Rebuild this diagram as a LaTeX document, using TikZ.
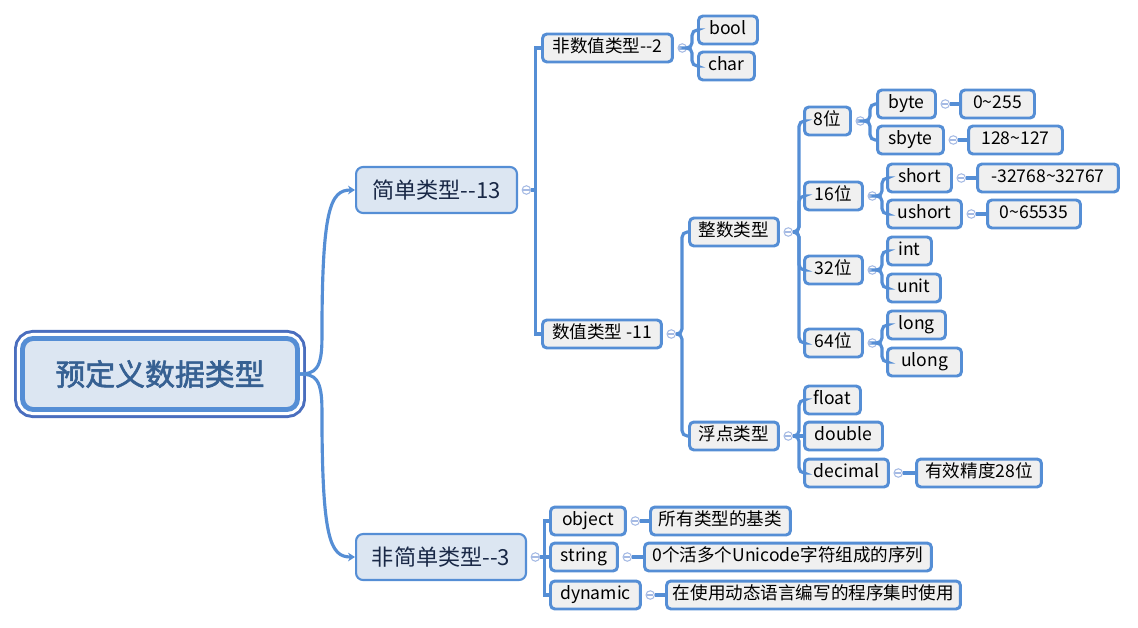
\documentclass[tikz,border=0pt]{standalone}
\usepackage{fontspec}
\newfontfamily\cjk[AutoFakeBold=2]{Noto Sans CJK SC}
\usetikzlibrary{arrows.meta,positioning}
\definecolor{lineblue}{RGB}{85,142,213}
\definecolor{leafgray}{RGB}{240,240,240}
\definecolor{midfill}{RGB}{220,230,242}
\definecolor{midtext}{RGB}{25,40,70}
\definecolor{roottext}{RGB}{54,96,146}
\definecolor{rootframe}{RGB}{74,110,190}
\definecolor{foldblue}{RGB}{165,186,228}

\begin{document}
\begin{tikzpicture}[
        x=0.02cm, y=-0.02cm,
        leaf/.style={draw=lineblue, fill=leafgray, line width=1.7pt, rounded corners=2.5pt,
                     minimum height=0.56cm, inner sep=0pt, anchor=west,
                     text height=1.6ex, text depth=0.35ex,
                     font=\cjk\fontsize{10}{12}\selectfont},
        mid/.style={draw=lineblue, fill=midfill, line width=1.2pt, rounded corners=4pt,
                    minimum height=0.92cm, inner sep=0pt, anchor=west, text=midtext,
                    font=\cjk\fontsize{12.6}{15}\selectfont},
        rootbox/.style={draw=lineblue, fill=midfill, line width=2.8pt, rounded corners=6pt,
                        minimum width=5.5cm, minimum height=1.42cm, inner sep=0pt, text=roottext,
                        font=\cjk\bfseries\fontsize{17}{20}\selectfont,
                        preaction={draw=rootframe, line width=9.7pt},
                        preaction={draw=white, line width=6.3pt}},
        fold/.style={circle, draw=foldblue, fill=white, line width=0.6pt, minimum size=0.17cm,
                     inner sep=0pt,
                     path picture={\draw[foldblue, line width=0.7pt]
                        ([xshift=-1.8pt]path picture bounding box.center) --
                        ([xshift=1.8pt]path picture bounding box.center);}},
        link/.style={draw=lineblue, line width=1.8pt},
        curly/.style={link, rounded corners=3pt},
        arr/.style={link, -{Stealth[length=4pt, width=5pt]}}
    ]
    \useasboundingbox (0,0) rectangle (1138,628);
    % root and first level
    \node[rootbox] (root) at (160,374) {预定义数据类型};
    \node[mid, minimum width=3.22cm] (simple) at (355,190) {简单类型-{}-13};
    \node[mid, minimum width=3.40cm] (nonsimple) at (355,557) {非简单类型-{}-3};
    \node[fold, right=2pt of simple] (fsimple) {};
    \node[fold, right=2pt of nonsimple] (fnonsimple) {};
    % simple types
    \node[leaf, minimum width=2.60cm] (nonnum) at (541,48) {非数值类型-{}-2};
    \node[leaf, minimum width=2.38cm] (num) at (541,334) {数值类型 -11};
    \node[fold, right=2pt of nonnum] (fnonnum) {};
    \node[fold, right=2pt of num] (fnum) {};
    \node[leaf, minimum width=1.18cm] (bool) at (697,30) {bool};
    \node[leaf, minimum width=1.12cm] (char) at (697,66) {char};
    \node[leaf, minimum width=1.78cm] (intg) at (688,232) {整数类型};
    \node[leaf, minimum width=1.78cm] (fltg) at (688,436) {浮点类型};
    \node[fold, right=2pt of intg] (fintg) {};
    \node[fold, right=2pt of fltg] (ffltg) {};
    % integer types
    \node[leaf, minimum width=0.92cm] (b8) at (803,121) {8位};
    \node[leaf, minimum width=1.16cm] (b16) at (803,196) {16位};
    \node[leaf, minimum width=1.16cm] (b32) at (803,270) {32位};
    \node[leaf, minimum width=1.16cm] (b64) at (803,343) {64位};
    \node[fold, right=2pt of b8] (fb8) {};
    \node[fold, right=2pt of b16] (fb16) {};
    \node[fold, right=2pt of b32] (fb32) {};
    \node[fold, right=2pt of b64] (fb64) {};
    \node[leaf, minimum width=1.16cm] (byte) at (876,104) {byte};
    \node[leaf, minimum width=1.32cm] (sbyte) at (876,140) {sbyte};
    \node[fold, right=2pt of byte] (fbyte) {};
    \node[fold, right=2pt of sbyte] (fsbyte) {};
    \node[leaf, minimum width=1.48cm] (rbyte) at (959,104) {0\textasciitilde 255};
    \node[leaf, minimum width=1.88cm] (rsbyte) at (967,140) {128\textasciitilde 127};
    \node[leaf, minimum width=1.28cm] (short) at (886,178) {short};
    \node[leaf, minimum width=1.48cm] (ushort) at (886,214) {ushort};
    \node[fold, right=2pt of short] (fshort) {};
    \node[fold, right=2pt of ushort] (fushort) {};
    \node[leaf, minimum width=2.82cm] (rshort) at (976,178) {-32768\textasciitilde 32767};
    \node[leaf, minimum width=1.86cm] (rushort) at (986,214) {0\textasciitilde 65535};
    \node[leaf, minimum width=0.88cm] (int) at (886,251) {int};
    \node[leaf, minimum width=1.06cm] (unit) at (886,288) {unit};
    \node[leaf, minimum width=1.16cm] (long) at (886,325) {long};
    \node[leaf, minimum width=1.48cm] (ulong) at (886,362) {ulong};
    % floating types
    \node[leaf, minimum width=1.12cm] (float) at (803,400) {float};
    \node[leaf, minimum width=1.56cm] (double) at (803,436) {double};
    \node[leaf, minimum width=1.68cm] (decimal) at (803,473) {decimal};
    \node[fold, right=2pt of decimal] (fdecimal) {};
    \node[leaf, minimum width=2.50cm] (ddecimal) at (915,473) {有效精度28位};
    % non-simple types
    \node[leaf, minimum width=1.50cm] (object) at (549,521) {object};
    \node[leaf, minimum width=1.34cm] (string) at (549,557) {string};
    \node[leaf, minimum width=1.80cm] (dynamic) at (549,595) {dynamic};
    \node[fold, right=2pt of object] (fobject) {};
    \node[fold, right=2pt of string] (fstring) {};
    \node[fold, right=2pt of dynamic] (fdynamic) {};
    \node[leaf, minimum width=2.80cm] (dobject) at (649,521) {所有类型的基类};
    \node[leaf, minimum width=5.74cm] (dstring) at (643,557) {0个活多个Unicode字符组成的序列};
    \node[leaf, minimum width=5.88cm] (ddynamic) at (665,595) {在使用动态语言编写的程序集时使用};
    % connectors
    \draw[arr] (root.east) .. controls +(15,0) and +(0,30) .. ++(22,-35)
        .. controls +(0,-130) and +(-25,0) .. (simple.west);
    \draw[arr] (root.east) .. controls +(15,0) and +(0,-30) .. ++(22,35)
        .. controls +(0,130) and +(-25,0) .. (nonsimple.west);
    \draw[link] (fsimple.east) -- ++(4,0) |- (nonnum.west);
    \draw[link] (fsimple.east) -- ++(4,0) |- (num.west);
    \draw[curly] (fnonnum.east) -- ++(5,0) |- (bool.west);
    \draw[curly] (fnonnum.east) -- ++(5,0) |- (char.west);
    \draw[curly] (fnum.east) -- ++(6,0) |- (intg.west);
    \draw[curly] (fnum.east) -- ++(6,0) |- (fltg.west);
    \draw[curly] (fintg.east) -- ++(6,0) |- (b8.west);
    \draw[curly] (fintg.east) -- ++(6,0) |- (b16.west);
    \draw[curly] (fintg.east) -- ++(6,0) |- (b32.west);
    \draw[curly] (fintg.east) -- ++(6,0) |- (b64.west);
    \draw[curly] (fb8.east) -- ++(5,0) |- (byte.west);
    \draw[curly] (fb8.east) -- ++(5,0) |- (sbyte.west);
    \draw[curly] (fb16.east) -- ++(5,0) |- (short.west);
    \draw[curly] (fb16.east) -- ++(5,0) |- (ushort.west);
    \draw[curly] (fb32.east) -- ++(5,0) |- (int.west);
    \draw[curly] (fb32.east) -- ++(5,0) |- (unit.west);
    \draw[curly] (fb64.east) -- ++(5,0) |- (long.west);
    \draw[curly] (fb64.east) -- ++(5,0) |- (ulong.west);
    \draw[link] (fbyte.east) -- (rbyte.west);
    \draw[link] (fsbyte.east) -- (rsbyte.west);
    \draw[link] (fshort.east) -- (rshort.west);
    \draw[link] (fushort.east) -- (rushort.west);
    \draw[curly] (ffltg.east) -- ++(6,0) |- (float.west);
    \draw[link] (ffltg.east) -- (double.west);
    \draw[curly] (ffltg.east) -- ++(6,0) |- (decimal.west);
    \draw[link] (fdecimal.east) -- (ddecimal.west);
    \draw[link] (fnonsimple.east) -- ++(4,0) |- (object.west);
    \draw[link] (fnonsimple.east) -- (string.west);
    \draw[link] (fnonsimple.east) -- ++(4,0) |- (dynamic.west);
    \draw[link] (fobject.east) -- (dobject.west);
    \draw[link] (fstring.east) -- (dstring.west);
    \draw[link] (fdynamic.east) -- (ddynamic.west);
\end{tikzpicture}
\end{document}
